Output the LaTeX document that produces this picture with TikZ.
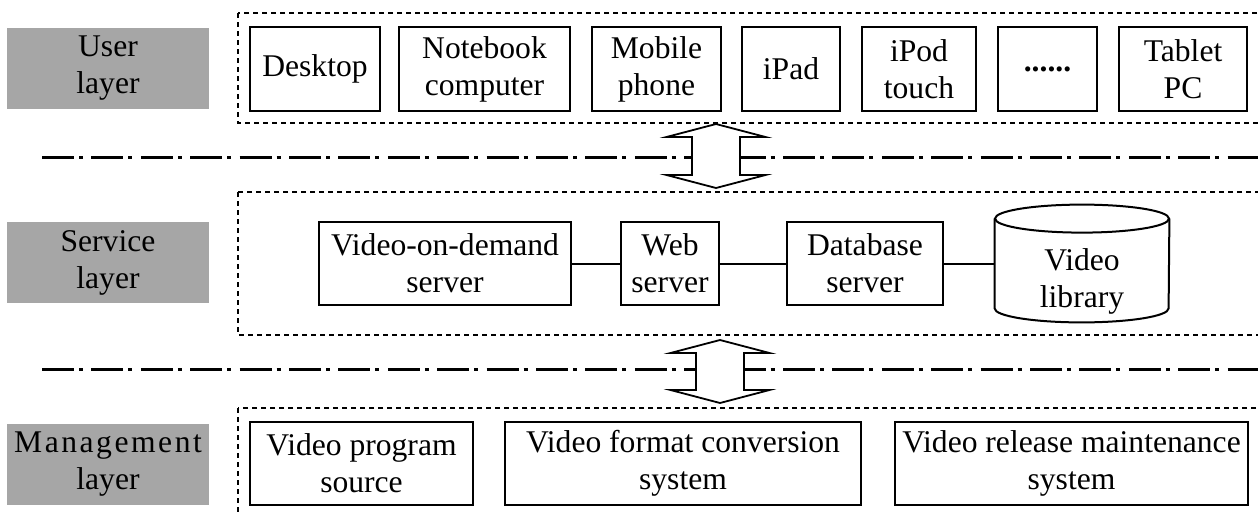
\documentclass[tikz,border=0pt]{standalone}
\usepackage{fontspec}
\setmainfont{Liberation Serif}
\definecolor{layergray}{HTML}{A6A6A6}
\tikzset{
  txt/.style={
    align=center,
    inner sep=0pt,
    font=\fontsize{15.8pt}{18.5pt}\selectfont
  },
  layer/.style={
    txt,
    fill=layergray,
    minimum width=101pt,
    minimum height=40.5pt
  },
  unit/.style={
    txt,
    draw,
    line width=0.9pt,
    minimum height=41.5pt
  },
  zone/.style={
    draw,
    line width=0.7pt,
    dash pattern=on 2.5pt off 2pt
  },
  divider/.style={
    line width=1.5pt,
    dash pattern=on 16pt off 2.5pt on 2pt off 4.2pt
  },
  link/.style={
    draw,
    line width=1pt
  },
  bigarrow/.style={
    draw,
    fill=white,
    line width=0.9pt,
    line join=miter
  }
}

\begin{document}
\begin{tikzpicture}[x=0.5pt, y=-0.5pt]
  \useasboundingbox (0,0) rectangle (1258,515);
  \draw[zone] (238,13) rectangle (1290,123);
  \draw[zone] (238,192) rectangle (1290,335);
  \draw[zone] (238,408) rectangle (1290,540);
  \draw[divider] (42,157) -- (1290,157);
  \draw[divider] (42,369) -- (1290,369);
  \foreach \ax/\at/\ab in {716/124/188, 720/340/403}
    \draw[bigarrow] (\ax,\at) -- ({\ax+49.5},{\at+13}) -- ({\ax+24},{\at+13})
      -- ({\ax+24},{\ab-13}) -- ({\ax+49.5},{\ab-13}) -- (\ax,\ab)
      -- ({\ax-49.5},{\ab-13}) -- ({\ax-24},{\ab-13}) -- ({\ax-24},{\at+13})
      -- ({\ax-49.5},{\at+13}) -- cycle;

  \node[layer] (userlayer) at (108,68) {User\\layer};
  \node[layer] (servicelayer) at (108,262.5) {Service\\layer};
  \node[layer] (managelayer) at (108,464.5) {{\addfontfeature{LetterSpace=8}Management}\\layer};

  \node[unit, minimum width=65pt, minimum height=42pt] (desktop) at (315,69) {Desktop};
  \node[unit, minimum width=85.5pt, minimum height=42pt] (notebook) at (484.5,69) {Notebook\\computer};
  \node[unit, minimum width=64.5pt, minimum height=42pt] (mobile) at (656.5,69) {Mobile\\phone};
  \node[unit, minimum width=49pt, minimum height=42pt] (ipad) at (791,69) {iPad};
  \node[unit, minimum width=57pt, minimum height=42pt] (ipod) at (919,69) {iPod\\touch};
  \node[unit, minimum width=49.5pt, minimum height=42pt] (more) at (1047.5,69) {\textbf{......}};
  \node[unit, minimum width=64pt, minimum height=42pt] (tablet) at (1183,69) {Tablet\\PC};

  \node[unit, minimum width=126pt] (vod) at (445,263.5) {Video-on-demand\\server};
  \node[unit, minimum width=49pt] (web) at (670,263.5) {Web\\server};
  \node[unit, minimum width=78pt] (db) at (865,263.5) {Database\\server};
  \node[minimum width=87pt, minimum height=58.5pt, inner sep=0pt] (lib) at (1082,263.5) {};
  \draw[link] ([yshift=-7pt]lib.north) ellipse [x radius=43.5pt, y radius=7pt];
  \draw[link] ([yshift=-7pt]lib.north west) -- ([yshift=7pt]lib.south west)
    arc [start angle=180, end angle=360, x radius=43.5pt, y radius=7pt]
    -- ([yshift=-7pt]lib.north east);
  \node[txt] (libtext) at ([yshift=-9pt]lib.center) {Video\\library};
  \draw[link] (vod) -- (web);
  \draw[link] (web) -- (db);
  \draw[link] (db) -- (lib);

  \node[unit, minimum width=111.5pt] (source) at (361.5,463.5) {Video program\\source};
  \node[unit, minimum width=178pt] (convert) at (683,463.5) {Video format conversion\\system};
  \node[unit, minimum width=176.5pt] (release) at (1071.5,463.5) {Video release maintenance\\system};
\end{tikzpicture}
\end{document}
